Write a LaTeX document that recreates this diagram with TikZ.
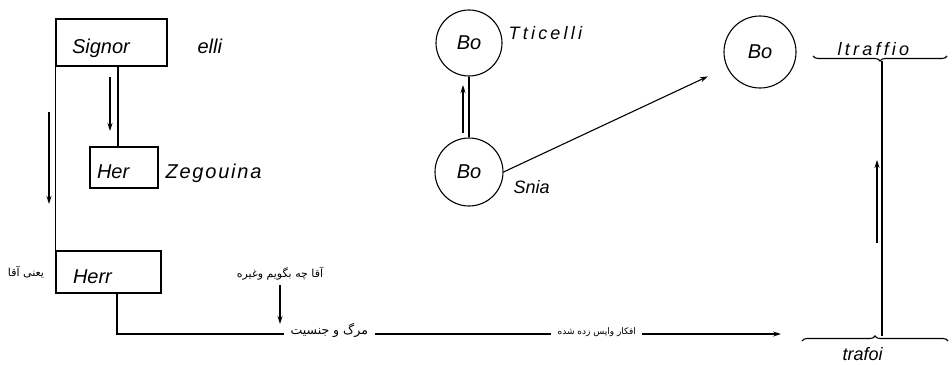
\documentclass[tikz,border=0pt]{standalone}
\usepackage{fontspec}
\setmainfont{Liberation Sans}
\newfontfamily\fa[Script=Arabic]{DejaVu Sans}
\newfontfamily\wideA{Liberation Sans}[LetterSpace=18]
\newfontfamily\wideB{Liberation Sans}[LetterSpace=9]
\TeXXeTstate=1
\usetikzlibrary{arrows.meta,decorations.pathreplacing,calc}
\begin{document}
\begin{tikzpicture}[x=1pt,y=-1pt,line width=1.1pt,
  arr/.style={-{Stealth[length=8pt,width=5pt]}},
  boxn/.style={draw,rectangle,align=left,text height=22pt,text depth=0pt,font=\fontsize{20}{22}\selectfont\itshape},
  bub/.style={draw,circle,inner sep=0pt,font=\fontsize{20}{22}\selectfont\itshape},
  lab/.style={inner sep=0pt,anchor=west,font=\fontsize{#1}{#1}\selectfont\itshape},
  fatext/.style={inner sep=0pt,font=\fa\fontsize{#1}{#1}\selectfont},
  brc/.style={decorate,decoration={brace,amplitude=5pt}},
]
\useasboundingbox (0,0) rectangle (952,364);

% boxes
\node[boxn,minimum width=111pt,minimum height=47pt,text width=79pt,inner xsep=16pt,inner ysep=0pt] (S) at (111.5,42.5) {Signor};
\node[boxn,minimum width=68pt,minimum height=41pt,text width=54pt,inner xsep=7pt,inner ysep=0pt] (H1) at (124,167.5) {Her};
\node[boxn,minimum width=105pt,minimum height=42pt,text width=71pt,inner xsep=17pt,inner ysep=0pt] (H2) at (108.5,272) {Herr};

\node[lab=20] (elli) at (197,46) {elli};
\node[lab=20,font=\wideB\fontsize{20}{20}\selectfont\itshape] (zeg) at (165,173) {Zegouina};

% left connectors
\coordinate (xs) at (118,0);
\draw (S.south -| xs) -- (H1.north -| xs);
\draw (S.south west) -- (H2.north west);
\coordinate (a1s) at (110,77);
\coordinate (a1e) at (110,131);
\draw[arr] (a1s) -- (a1e);
\coordinate (a2s) at (49,112);
\coordinate (a2e) at (49,204);
\draw[arr] (a2s) -- (a2e);

% persian texts
\node[fatext=11] (yani) at (26,272) {\beginR یعنی آقا\endR};
\node[fatext=11] (ag) at (280,274) {\beginR آقا چه بگویم وغیره\endR};
\node[fatext=12.5,anchor=base west,inner xsep=6pt] (mg) at (284,334) {\beginR مرگ و جنسیت\endR};
\node[fatext=9,anchor=base west,inner xsep=6pt] (af) at (551,334) {\beginR افکار واپس زده شده\endR};

% bottom line
\coordinate (hx) at (117,0);
\draw (H2.south -| hx) |- (mg.base west);
\draw (mg.base east) -- (af.base west);
\coordinate (ax) at (280,0);
\coordinate (agEnd) at (280,324);
\draw[arr] (ag.south -| ax) ++(0,4) -- (agEnd);
\coordinate (aEnd) at (781,334);
\draw[arr] (af.base east) -- (aEnd);

% circles
\node[bub,minimum size=66pt] (B1) at (469,43) {Bo};
\node[bub,minimum size=68pt] (B2) at (469,172) {Bo};
\node[bub,minimum size=72pt] (B3) at (760,52) {Bo};
\draw (B2.north) -- (B1.south);
\coordinate (u1s) at (463,133);
\coordinate (u1e) at (463,85);
\draw[arr] (u1s) -- (u1e);
\draw[arr,shorten >=21pt] (B2.east) -- (B3);
\node[lab=18,font=\wideA\fontsize{18}{18}\selectfont\itshape] (tic) at (508,33) {Tticelli};
\node[lab=18] (sni) at (513,187) {Snia};

% right structure
\coordinate (tL) at (813,56);
\coordinate (tR) at (947,56);
\coordinate (tT) at (882,61);
\coordinate (bL) at (802,341);
\coordinate (bR) at (948,341);
\coordinate (bT) at (882,336);
\draw[brc,decoration={mirror}] (tL) -- (tR);
\draw[brc] (bL) -- (bR);
\draw (tT) -- (bT);
\coordinate (u2s) at (877,243);
\coordinate (u2e) at (877,160);
\draw[arr] (u2s) -- (u2e);
\node[lab=18,font=\wideA\fontsize{18}{18}\selectfont\itshape] (ltr) at (837,49) {ltraffio};
\node[lab=18] (tra) at (842,354) {trafoi};
\end{tikzpicture}
\end{document}
